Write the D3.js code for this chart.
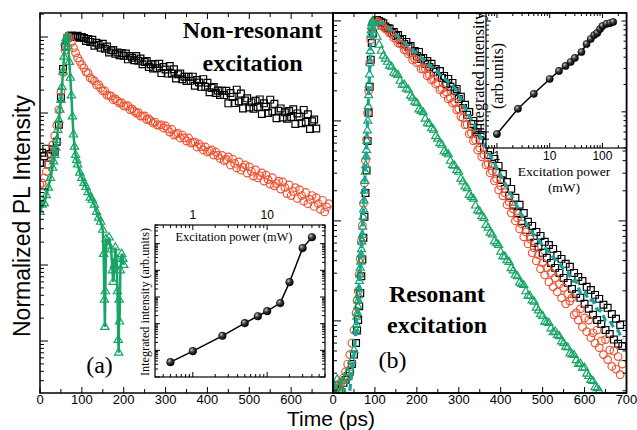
<!DOCTYPE html>
<html>
<head>
<meta charset="utf-8">
<script src="https://cdn.jsdelivr.net/npm/d3@7"></script>
<style>
  body { margin: 0; background: #fff; }
  svg { display: block; }
  .sans { font-family: "Liberation Sans", Arial, sans-serif; }
  .serif { font-family: "Liberation Serif", "Times New Roman", serif; }
</style>
</head>
<body>
<div id="chart"></div>
<script>
// ---- data: normalized PL intensity, one reading every 5 ps from t = 0 ----

// (a) non-resonant excitation
const nonResSquares = [
  0.022,0.030,0.027,0.034,0.021,0.029,0.033,0.031,0.042,0.07,0.16,0.38,0.75,0.96,1.02,1.05,1.03,1.0,1.04,0.98,1.0,
  .970,.889,.944,.862,.918,.766,.839,.79,.723,.816,.70,.748,.624,.667,.673,.60,.624,.575,.614,.566,.606,.508,.562,
  .533,.495,.562,.488,.521,.438,
  .469,.483,.404,.438,.386,.441,.389,.444,.335,.403,.373,.33,.416,.331,.377,.284,.323,.332,.278,.30,.264,.30,.265,
  .301,.228,.272,.252,.221,.279,.221,.25,.188,.214,.22,.183,.198,.173,.197,.172,.196,
  .134,.183,.163,.135,.203,.142,.18,.115,.146,.156,.118,.138,.114,.145,.12,.151,.097,.134,.121,.1,.15,.105,.132,
  .0852,.107,.115,.0875,.102,.0841,.106,.0884,.112,.0717,.0988,.0891,.0734,.11,.0764,.0964,.0616,.0777,.0823,.0625
]
const nonResCircles = [
  0.0113,0.012,0.014,0.017,0.021,0.028,0.038,0.05,0.069,0.11,0.19,0.34,0.67,1.0,0.97,0.85,0.72,0.62,0.53,0.48,0.43,
  .391,.346,.336,.289,.276,.264,.234,.236,.213,.195,.196,.172,.17,.167,.15,.153,.144,.135,.137,.124,.123,.125,.111,
  .113,.106,.1,.101,.0913,.091,.0915,.0821,.0834,.0785,.0739,.0761,.0695,.069,.07,.0635,
  .0675,.0616,.0562,.0607,.0513,.053,.0545,.0469,.0513,.047,.0428,.0469,.0403,.041,.0415,.0357,.0391,.036,.0326,
  .0357,.0307,.0316,.0327,.028,.0307,.0276,.0252,.0277,.0237,.0245,
  .0264,.0207,.0248,.0217,.0189,.0227,.0178,.0192,.0207,.0162,.0195,.0171,.0148,.0178,.014,.015,.0163,.0127,.0152,
  .0133,.0116,.0141,.011,.0118,.0127,.01,
  .0124,.0104,.0087,.0113,.0082,.0093,.0104,.0075,.0098,.0082,.0069,.009,.0064,.0073,.0082,.0059,.0077,.0064,.0054,
  .0071,.005,.0058,.0064
]
// [time (ps), intensity]: irregular sampling around the fast decay
const nonResTriangles = [
  [0,0.0050],[5,0.0062],[10,0.0065],[15,0.0083],[20,0.0104],[25,0.014],[30,0.019],[32.5,0.023],[35,0.028],
  [37.5,0.035],[40,0.044],[42.5,0.06],[45,0.081],[47.5,0.11],[50,0.148],[52.5,0.22],[55,0.35],[57.5,0.55],
  [60,0.86],[62.5,0.97],[65,1.0],[67.5,0.75],[70,0.47],[72.5,0.29],[75,0.17],[77.5,0.09],[80,0.052],
  [82.5,0.036],[85,0.028],[87.5,0.024],[90,0.021],[95,0.0164],[100,0.014],[105,0.012],[110,0.0106],[115,0.0091],
  [120,0.0077],[125,0.0072],[130,0.0062],[135,0.0050],[140,0.0042],[145,0.0037],[150,0.0029],[152,0.0014],
  [154,0.00035],[155,0.000153],[156,0.00045],[158,0.0022],[160,0.0018],[165,0.0023],[170,0.0016],[173,0.00085],
  [175,0.0006],[178,0.001],[180,0.0017],[183,0.0012],[185,0.00045],[187,0.000103],[188,0.00007],[189,0.00035],
  [190,0.00018],[192,0.00085],[195,0.0014],[198,0.0012],[200,0.001]
]

// (b) resonant excitation
const resSquares = [
  0.00021,0.00023,0.000224,0.0002,0.000195,0.00024,0.000257,0.00028,0.00031,0.00037,0.00046,0.0006,0.00102,0.0019,
  0.0041,0.011,0.032,0.12,0.41,0.75,1.0,1.02,1.0,0.97,0.95,0.88,
  .851,.84,.759,.776,.708,.724,.646,.661,.589,.617,.55,.562,.479,.501,.447,.49,.417,.427,.372,.398,.347,.372,.309,
  .331,.282,.316,.269,.282,.234,.263,.219,.24,.2,
  .209,.166,.174,.135,.145,.115,.123,.0933,.1,.0776,.0851,.0646,.0724,.0537,.0603,.0457,.0513,.0372,.0417,.0309,
  .0355,.0257,.0295,.0209,.0245,.0178,.0209,.0145,.017,.012,.0145,.01,.012,.00813,.0098,.00692,
  .00891,.00603,.00776,.0055,.00708,.00479,.00617,.00427,.00575,.0038,.00525,.00339,.00457,.00302,.00417,.00269,
  .00372,.0024,.00347,.00209,.00302,.00186,.00275,.0017,.00251,.00148,.00219,.00132,.00204,.00115,.00182,.00102,
  .00166,.00093,.00145,.00081,.00135,.00074,.00117,.00065,.00105,.00059,.00091,.00056
]
const resCircles = [
  0.000195,0.0002,0.000214,0.00023,0.000245,0.00027,0.00031,0.00037,0.00046,0.0006,0.00081,0.0012,0.002,0.0042,
  0.009,0.024,0.065,0.2,0.65,0.97,1.0,0.99,0.955,0.92,0.871,0.83,
  .813,.759,.741,.676,.67,.603,.589,.575,.513,.51,.468,.479,.407,.417,.38,.389,.331,.33,.335,.282,.288,.257,.263,
  .234,.24,.204,.209,.186,.195,.166,.17,.151,.155,
  .129,.132,.11,.107,.0912,.092,.0741,.0759,.0631,.0646,.0513,.0537,.0437,.0457,.0363,.0372,.0302,.0316,.0251,
  .0263,.0204,.0224,.0178,.0191,.0145,.0155,.012,.0132,.01,.0107,.00832,.00933,.00692,.00776,.00589,.00661,
  .00479,.00537,.00398,.00457,.00331,.0038,
  .00288,.00339,.00245,.00302,.00219,.00269,.00195,.00234,.0017,.00214,.00148,.00186,.00158,.0017,.00115,.0012,
  .00102,.00132,.00087,.00107,.00078,.00102,.00068,.00076,.0006,.00081,.00054,.00063,.00046,.00065,.00041,.00051,
  .00035,.0005,.00033,.00044,.00029,.00037
]
const resTriangles = [
  0.00023,0.00021,0.00026,0.00022,0.00021,0.00025,0.00027,0.0003,0.00034,0.0004,0.00051,0.0008,0.0016,0.0034,
  0.0072,0.02,0.051,0.18,0.72,
  1.0,0.871,0.692,0.575,0.501,0.447,0.417,
  .389,.355,.347,.302,.295,.288,.251,.229,.23,.209,.204,.178,.17,.155,.151,.13,.126,.122,.105,.0944,
  .0933,.0841,.0813,.07,.0661,.0596,.0575,.0496,.0479,.0462,.0398,.0359,.0355,.032,.0309,.0263,.0247,.0221,
  .0212,.0181,.0173,.0166,.0142,.0127,.0124,.0111,.0107,.0091,.00851,.00759,.00729,.00624,.00598,.00573,
  .0049,.00443,.0044,.00403,.00388,.00335,.00318,.00288,.00279,.00241,.00234,.00228,.00197,.00178,.00177,
  .0016,.00155,.00135,.00127,.00116,.00112,.00098,.00097,.00095,.00084,.00077,.00078,.00072,.0007,.00062,
  .0006,.00055,.00054,.00047,.00046,.000455,.000403,.00037,.000374,.00034,.000339,.000295,.00028,.000256,
  .00025,.000217,.000212,.0002
]
// extra [time (ps), intensity] readings on the steep rising edge of (b)
const resSquaresRise = [[57.5,0.0008],[62.5,0.0014],[67.5,0.0028],[72.5,0.0068],[77.5,0.019],[82.5,0.063],[87.5,0.22],[92.5,0.6]]
const resCirclesRise = [[57.5,0.0016],[62.5,0.0029],[67.5,0.0062],[72.5,0.015],[77.5,0.04],[82.5,0.12],[87.5,0.38],[92.5,0.85]]
const resTrianglesRise = [
  [56,0.00092],[57,0.0011],[58,0.0012],[59,0.0014],[61,0.0018],[62,0.0021],[63,0.0025],[64,0.0029],[66,0.0039],
  [67,0.0046],[68,0.0052],[69,0.0062],[71,0.0087],[72,0.011],[73,0.013],[74,0.016],[76,0.025],[77,0.031],
  [78,0.036],[79,0.044],[81,0.063],[82,0.08],[83,0.1],[84,0.14],[86,0.23],[87,0.29],[88,0.38],[89,0.5],
  [91,0.8],[92,0.88],[93,0.95],[94,0.98]
]
const resDashed = [
  [40,0.0002],[50,0.00045],[60,0.0015],[70,0.008],[80,0.055],[90,0.6],[95,0.95],[100,1.0],[110,0.97],[120,0.93],
  [130,0.871],[140,0.80],[150,0.73],[160,0.67],[170,0.61],[180,0.562],[190,0.515],[200,0.47],[210,0.433],
  [220,0.396],[230,0.363],[240,0.333],[250,0.305],[260,0.279],[270,0.256],[280,0.234],[290,0.215],[300,0.179],
  [310,0.149],[320,0.124],[330,0.103],[340,0.0861],[350,0.0716],[360,0.0597],[370,0.0498],[380,0.0414],
  [390,0.0345],[400,0.0287],[410,0.0239],[420,0.0199],[430,0.0166],[440,0.0138],[450,0.0115],[460,0.0096],
  [470,0.008],[480,0.0072],[490,0.0064],[500,0.0057],[510,0.0051],[520,0.0046],[530,0.0041],[540,0.0037],
  [550,0.0033],[560,0.0031],[570,0.0025],[580,0.0025],[590,0.0019],[600,0.002],[610,0.0016],[620,0.0016],
  [630,0.0013],[640,0.00125],[650,0.001],[660,0.001],[670,0.00085],[680,0.0008],[690,0.00065]
]

// insets: excitation power (mW) vs integrated intensity (arb. units)
const insetAPower = [0.5, 1, 2.5, 5, 7.5, 10, 15, 20, 30, 40]
const insetAIntensity = [3.6, 9.3, 35, 105, 190, 295, 590, 3600, 68000, 174000]
const insetBPower = [1, 2.5, 5, 10, 15, 20, 25, 30, 40, 50, 60, 70, 80, 90, 100, 120, 140, 160]
const insetBIntensity = [0.57, 1.08, 1.58, 2.3, 2.82, 3.2, 3.54, 3.92, 4.56, 5.58, 6.34, 7.0, 7.4, 8.15, 8.8, 9.3, 9.5, 9.75]

const timeTicks = [0, 50, 100, 150, 200, 250, 300, 350, 400, 450, 500, 550, 600, 650, 700]
const timeLabelsA = [0, 100, 200, 300, 400, 500, 600]
const timeLabelsB = [0, 100, 200, 300, 400, 500, 600, 700]

// colours
const red = "#ef5535"
const green = "#17a565"
const teal = "#14a5a0"

// readings taken every 5 ps -> [time, value] pairs
const everyFive = values => values.map((v, i) => [5 * i, v])

// ---- dimensions ----
const width = 637
const height = 430
const panelA = { left: 40, right: 333, top: 13, bottom: 393 }
const panelB = { left: 333, right: 626.5, top: 13, bottom: 393 }
const insetA = { left: 155, right: 325, top: 225, bottom: 377 }
const insetB = { left: 486, right: 626.5, top: 13, bottom: 148 }

const svg = d3.select("#chart").append("svg")
    .attr("width", width)
    .attr("height", height)

const defs = svg.append("defs")
defs.append("clipPath").attr("id", "clipA").append("rect")
    .attr("x", panelA.left).attr("y", panelA.top)
    .attr("width", panelA.right - panelA.left).attr("height", panelA.bottom - panelA.top)
defs.append("clipPath").attr("id", "clipB").append("rect")
    .attr("x", panelB.left).attr("y", panelB.top)
    .attr("width", panelB.right - panelB.left).attr("height", panelB.bottom - panelB.top)
const ball = defs.append("radialGradient").attr("id", "ball")
    .attr("cx", "35%").attr("cy", "32%").attr("r", "70%")
ball.append("stop").attr("offset", "0%").attr("stop-color", "#c8c8c8")
ball.append("stop").attr("offset", "45%").attr("stop-color", "#3a3a3a")
ball.append("stop").attr("offset", "100%").attr("stop-color", "#000")

// ---- scales ----
const xA = d3.scaleLinear().domain([0, 700]).range([panelA.left, panelA.right])
const yA = d3.scaleLog().domain([2.07e-5, 2.07]).range([panelA.bottom, panelA.top])
const xB = d3.scaleLinear().domain([0, 700]).range([panelB.left, panelB.right])
const yB = d3.scaleLog().domain([1.9e-4, 1.2]).range([panelB.bottom, panelB.top])

const xInA = d3.scaleLog().domain([0.31, 60]).range([insetA.left, insetA.right])
const yInA = d3.scaleLog().domain([1, 5e5]).range([insetA.bottom, insetA.top])
const xInB = d3.scaleLog().domain([0.62, 286]).range([insetB.left, insetB.right])
const yInB = d3.scaleLog().domain([0.4, 12.25]).range([insetB.bottom, insetB.top])

const isDecade = v => Math.abs(Math.log10(v) - Math.round(Math.log10(v))) < 1e-6

// ---- helpers ----
function drawSymbols(g, data, x, y, type, size, color) {
  const path = d3.symbol().type(type).size(size)()
  g.selectAll(null).data(data).enter().append("path")
      .attr("d", path)
      .attr("transform", d => `translate(${x(d[0])},${y(d[1])})`)
      .attr("fill", "none")
      .attr("stroke", color)
      .attr("stroke-width", 1.2)
}

function drawCircles(g, data, x, y, r, color) {
  g.selectAll(null).data(data).enter().append("circle")
      .attr("cx", d => x(d[0]))
      .attr("cy", d => y(d[1]))
      .attr("r", r)
      .attr("fill", "none")
      .attr("stroke", color)
      .attr("stroke-width", 1.2)
}

function tickLines(g, list) {
  g.selectAll(null).data(list).enter().append("line")
      .attr("x1", d => d[0]).attr("y1", d => d[1])
      .attr("x2", d => d[2]).attr("y2", d => d[3])
      .attr("stroke", "#000")
      .attr("stroke-width", 1)
}

// ---- panel (a) data ----
const gA = svg.append("g").attr("clip-path", "url(#clipA)")
drawSymbols(gA, everyFive(nonResSquares), xA, yA, d3.symbolSquare, 46, "#000")
drawCircles(gA, everyFive(nonResCircles), xA, yA, 3.8, red)
gA.append("path")
    .datum(nonResTriangles)
    .attr("d", d3.line().x(d => xA(d[0])).y(d => yA(d[1])))
    .attr("fill", "none")
    .attr("stroke", green)
    .attr("stroke-width", 2.5)
drawSymbols(gA, nonResTriangles, xA, yA, d3.symbolTriangle, 30, green)

// ---- panel (b) data ----
const gB = svg.append("g").attr("clip-path", "url(#clipB)")
drawSymbols(gB, everyFive(resSquares).concat(resSquaresRise), xB, yB, d3.symbolSquare, 46, "#000")
drawCircles(gB, everyFive(resCircles).concat(resCirclesRise), xB, yB, 3.8, red)
drawSymbols(gB, everyFive(resTriangles).concat(resTrianglesRise), xB, yB, d3.symbolTriangle, 28, green)
gB.append("path")
    .datum(resDashed)
    .attr("d", d3.line().x(d => xB(d[0])).y(d => yB(d[1])))
    .attr("fill", "none")
    .attr("stroke", teal)
    .attr("stroke-width", 3.2)
    .attr("stroke-dasharray", "7,4")

// ---- frames and ticks ----
function drawPanelFrame(p, y, x, leftTicks, rightTicks) {
  const g = svg.append("g")
  const t = []
  timeTicks.forEach(v => {
    const len = v % 100 === 0 ? 6 : 4
    t.push([x(v), p.bottom, x(v), p.bottom - len])
    t.push([x(v), p.top, x(v), p.top + len])
  })
  y.ticks().forEach(v => {
    const len = isDecade(v) ? 8 : 4
    if (leftTicks) t.push([p.left, y(v), p.left + len, y(v)])
    if (rightTicks) t.push([p.right, y(v), p.right - len, y(v)])
  })
  tickLines(g, t)
  g.append("rect")
      .attr("x", p.left).attr("y", p.top)
      .attr("width", p.right - p.left).attr("height", p.bottom - p.top)
      .attr("fill", "none").attr("stroke", "#000").attr("stroke-width", 1.5)
  return g
}
drawPanelFrame(panelA, yA, xA, true, false)
drawPanelFrame(panelB, yB, xB, true, true)

svg.append("g").selectAll(null).data(timeLabelsA).enter().append("text")
    .attr("class", "sans")
    .attr("x", d => xA(d)).attr("y", 403.5)
    .attr("text-anchor", "middle").attr("font-size", 13)
    .text(d => d)
svg.append("g").selectAll(null).data(timeLabelsB).enter().append("text")
    .attr("class", "sans")
    .attr("x", d => xB(d)).attr("y", 403.5)
    .attr("text-anchor", "middle").attr("font-size", 13)
    .text(d => d)

// ---- axis titles and annotations ----
svg.append("text").attr("class", "sans")
    .attr("x", 331).attr("y", 425.5)
    .attr("text-anchor", "middle").attr("font-size", 21)
    .text("Time (ps)")
svg.append("text").attr("class", "sans")
    .attr("transform", "translate(30,216) rotate(-90)")
    .attr("text-anchor", "middle").attr("font-size", 23)
    .text("Normalized PL Intensity")

const bold = (x, y, s) => svg.append("text").attr("class", "serif")
    .attr("x", x).attr("y", y).attr("text-anchor", "middle")
    .attr("font-size", 24).attr("font-weight", "bold").text(s)
bold(252.5, 38, "Non-resonant")
bold(252.5, 71, "excitation")
bold(437, 302, "Resonant")
bold(437, 333, "excitation")

svg.append("text").attr("class", "serif")
    .attr("x", 99.5).attr("y", 373).attr("text-anchor", "middle").attr("font-size", 24).text("(a)")
svg.append("text").attr("class", "serif")
    .attr("x", 392.5).attr("y", 368).attr("text-anchor", "middle").attr("font-size", 24).text("(b)")

// ---- insets ----
function drawInset(box, x, y, powers, intensities, r) {
  const g = svg.append("g")
  g.append("rect")
      .attr("x", box.left).attr("y", box.top)
      .attr("width", box.right - box.left).attr("height", box.bottom - box.top)
      .attr("fill", "#fff")
  const t = []
  x.ticks().forEach(v => {
    const len = isDecade(v) ? 5 : 3
    t.push([x(v), box.bottom, x(v), box.bottom - len])
    t.push([x(v), box.top, x(v), box.top + len])
  })
  y.ticks().forEach(v => {
    const len = isDecade(v) ? 5 : 3
    t.push([box.left, y(v), box.left + len, y(v)])
    t.push([box.right, y(v), box.right - len, y(v)])
  })
  tickLines(g, t)
  g.append("rect")
      .attr("x", box.left).attr("y", box.top)
      .attr("width", box.right - box.left).attr("height", box.bottom - box.top)
      .attr("fill", "none").attr("stroke", "#000").attr("stroke-width", 1.2)
  const pts = powers.map((p, i) => [p, intensities[i]])
  g.append("path")
      .datum(pts)
      .attr("d", d3.line().x(d => x(d[0])).y(d => y(d[1])))
      .attr("fill", "none").attr("stroke", "#000").attr("stroke-width", 1.5)
  g.selectAll(null).data(pts).enter().append("circle")
      .attr("cx", d => x(d[0])).attr("cy", d => y(d[1]))
      .attr("r", r).attr("fill", "url(#ball)").attr("stroke", "#000").attr("stroke-width", 0.6)
  return g
}

drawInset(insetA, xInA, yInA, insetAPower, insetAIntensity, 3.8)
svg.append("g").selectAll(null).data([1, 10]).enter().append("text")
    .attr("class", "sans")
    .attr("x", d => xInA(d)).attr("y", 219)
    .attr("text-anchor", "middle").attr("font-size", 12)
    .text(d => d)
svg.append("text").attr("class", "serif")
    .attr("x", 234).attr("y", 241).attr("text-anchor", "middle").attr("font-size", 12.3)
    .text("Excitation power (mW)")
svg.append("text").attr("class", "serif")
    .attr("transform", "translate(149,302) rotate(-90)")
    .attr("text-anchor", "middle").attr("font-size", 12.2)
    .text("Integrated intensity (arb.units)")

drawInset(insetB, xInB, yInB, insetBPower, insetBIntensity, 3.6)
svg.append("g").selectAll(null).data([1, 10, 100]).enter().append("text")
    .attr("class", "sans")
    .attr("x", d => xInB(d)).attr("y", 160)
    .attr("text-anchor", "middle").attr("font-size", 12)
    .text(d => d)
svg.append("text").attr("class", "serif")
    .attr("x", 564).attr("y", 176).attr("text-anchor", "middle").attr("font-size", 13.5)
    .text("Excitation power")
svg.append("text").attr("class", "serif")
    .attr("x", 564).attr("y", 192).attr("text-anchor", "middle").attr("font-size", 13.5)
    .text("(mW)")
svg.append("text").attr("class", "serif")
    .attr("transform", "translate(484,74) rotate(-90)")
    .attr("text-anchor", "middle").attr("font-size", 16)
    .text("Integrated intensity")
svg.append("text").attr("class", "serif")
    .attr("transform", "translate(503,76) rotate(-90)")
    .attr("text-anchor", "middle").attr("font-size", 16)
    .text("(arb.units)")

// redraw the outer frame of panel (b) so the inset does not cover it
svg.append("rect")
    .attr("x", panelB.left).attr("y", panelB.top)
    .attr("width", panelB.right - panelB.left).attr("height", panelB.bottom - panelB.top)
    .attr("fill", "none").attr("stroke", "#000").attr("stroke-width", 1.5)
</script>
</body>
</html>
